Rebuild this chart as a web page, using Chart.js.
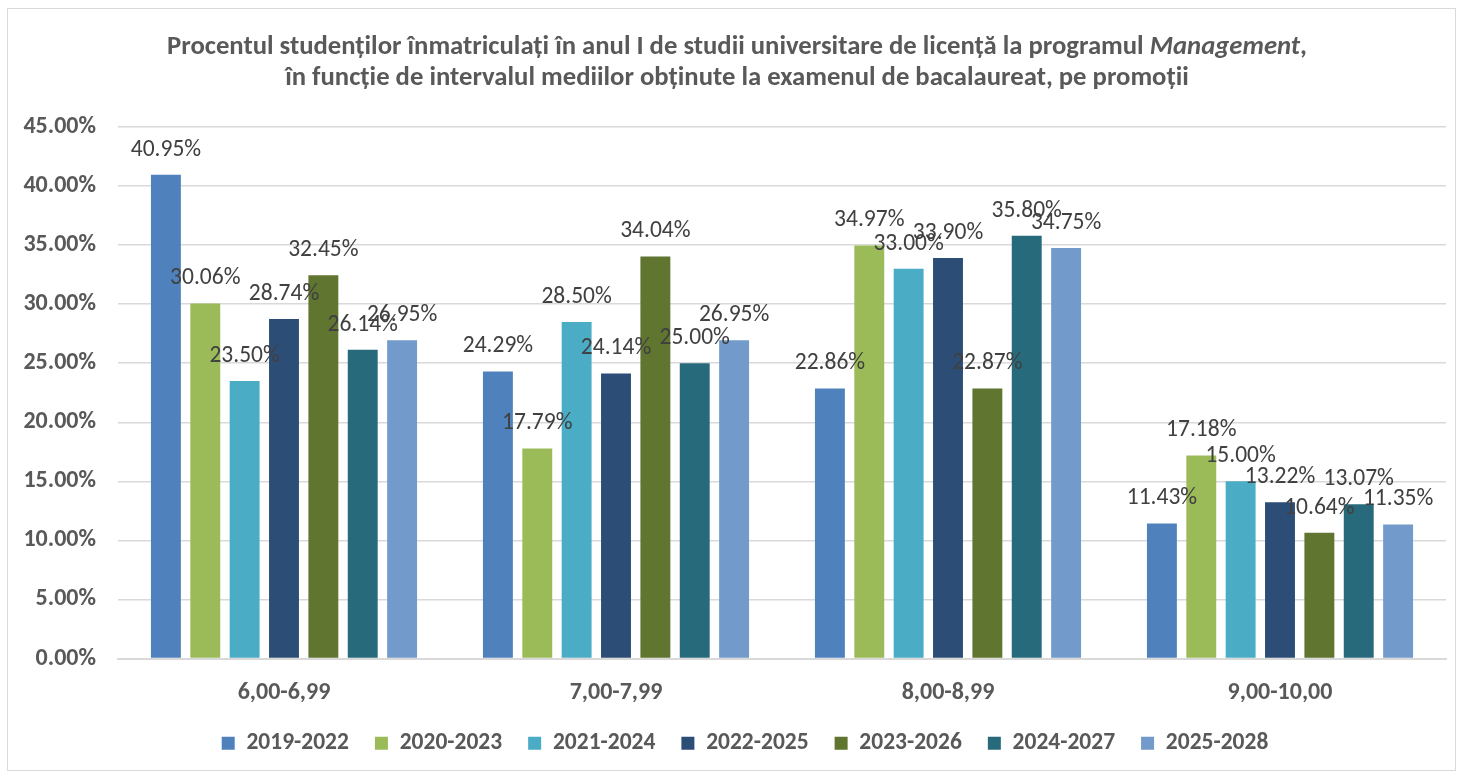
<!DOCTYPE html>
<html>
<head>
<meta charset="utf-8">
<script src="https://cdn.jsdelivr.net/npm/chart.js@4.4.1/dist/chart.umd.min.js"></script>
<style>
  html, body { margin: 0; padding: 0; background: #fff; }
  #wrap { position: relative; width: 1462px; height: 773px; }
</style>
</head>
<body>
<div id="wrap"><canvas id="chart" width="1462" height="773"></canvas></div>
<script>
// date grafic
const categories = ['6,00-6,99', '7,00-7,99', '8,00-8,99', '9,00-10,00'];
const seriesNames = ['2019-2022', '2020-2023', '2021-2024', '2022-2025', '2023-2026', '2024-2027', '2025-2028'];
const v2019 = [40.95, 24.29, 22.86, 11.43];
const v2020 = [30.06, 17.79, 34.97, 17.18];
const v2021 = [23.50, 28.50, 33.00, 15.00];
const v2022 = [28.74, 24.14, 33.90, 13.22];
const v2023 = [32.45, 34.04, 22.87, 10.64];
const v2024 = [26.14, 25.00, 35.80, 13.07];
const v2025 = [26.95, 26.95, 34.75, 11.35];
const seriesColors = ['#4F81BD', '#9BBB59', '#4BACC6', '#2C4D75', '#5F7530', '#276A7C', '#729ACA'];
const yTicks = [0, 5, 10, 15, 20, 25, 30, 35, 40, 45];

const titleLine1 = 'Procentul studenților înmatriculați în anul I de studii universitare de licență la programul ';
const titleItalic = 'Management';
const titleEnd = ',';
const titleLine2 = 'în funcție de intervalul mediilor obținute la examenul de bacalaureat, pe promoții';

const FONT = 'Carlito, "Liberation Sans", sans-serif';

// titlu cu "Management" in italic + chenar
const titlePlugin = {
    id: 'titlu',
    afterLayout(chart) {
        // legenda e putin mai la dreapta in original
        chart.legend.left += 17;
        chart.legend.right += 17;
    },
    beforeDraw(chart) {
        const ctx = chart.ctx;
        ctx.save();
        ctx.strokeStyle = '#d9d9d9';
        ctx.lineWidth = 1;
        ctx.strokeRect(7.5, 8.5, 1448, 762);
        ctx.restore();
    },
    afterDraw(chart) {
        const ctx = chart.ctx;
        const cx = 737;
        ctx.save();
        ctx.fillStyle = '#595959';
        ctx.textBaseline = 'middle';
        ctx.textAlign = 'left';
        const bold = 'bold 26.7px ' + FONT;
        const boldIt = 'italic bold 26.7px ' + FONT;
        ctx.font = bold;
        const w1 = ctx.measureText(titleLine1).width;
        const w3 = ctx.measureText(titleEnd).width;
        ctx.font = boldIt;
        const w2 = ctx.measureText(titleItalic).width;
        let x = cx - (w1 + w2 + w3) / 2;
        ctx.font = bold;
        ctx.fillText(titleLine1, x, 47);
        ctx.font = boldIt;
        ctx.fillText(titleItalic, x + w1, 47);
        ctx.font = bold;
        ctx.fillText(titleEnd, x + w1 + w2, 47);
        ctx.textAlign = 'center';
        ctx.fillText(titleLine2, cx, 78);
        ctx.restore();
    }
};

// etichete de date deasupra barelor
const labelsPlugin = {
    id: 'etichete',
    afterDatasetsDraw(chart) {
        const ctx = chart.ctx;
        ctx.save();
        ctx.font = '23.5px ' + FONT;
        ctx.fillStyle = '#404040';
        ctx.textAlign = 'center';
        ctx.textBaseline = 'middle';
        chart.data.datasets.forEach((ds, i) => {
            chart.getDatasetMeta(i).data.forEach((bar, j) => {
                ctx.fillText(ds.data[j].toFixed(2) + '%', bar.x, bar.y - 25);
            });
        });
        ctx.restore();
    }
};

const allValues = [v2019, v2020, v2021, v2022, v2023, v2024, v2025];

new Chart(document.getElementById('chart').getContext('2d'), {
    type: 'bar',
    data: {
        labels: categories,
        datasets: seriesNames.map((name, i) => ({
            label: name,
            data: allValues[i],
            backgroundColor: seriesColors[i],
            borderWidth: 0,
            categoryPercentage: 0.83,
            barPercentage: 0.76
        }))
    },
    options: {
        responsive: false,
        animation: false,
        layout: { padding: { top: 127, left: 10, right: 16, bottom: 8 } },
        plugins: {
            title: { display: false },
            tooltip: { enabled: false },
            legend: {
                position: 'bottom',
                labels: {
                    boxWidth: 13,
                    boxHeight: 13,
                    padding: 26,
                    color: '#595959',
                    font: { family: FONT, size: 23.5, weight: 'bold' }
                }
            }
        },
        scales: {
            x: {
                grid: { display: false, drawTicks: false },
                border: { display: true, color: '#d9d9d9', width: 2 },
                ticks: {
                    color: '#595959',
                    padding: 20,
                    font: { family: FONT, size: 24, weight: 'bold' }
                },
                afterFit(scale) { scale.height = 47; }
            },
            y: {
                min: 0,
                max: 45,
                afterBuildTicks(scale) { scale.ticks = yTicks.map(v => ({ value: v })); },
                grid: { color: '#d9d9d9', lineWidth: 1.5, drawTicks: false },
                border: { display: false },
                ticks: {
                    color: '#595959',
                    padding: 22,
                    font: { family: FONT, size: 24, weight: 'bold' },
                    callback: v => v.toFixed(2) + '%'
                },
                afterFit(scale) { scale.width = 108; }
            }
        }
    },
    plugins: [titlePlugin, labelsPlugin]
});
</script>
</body>
</html>
